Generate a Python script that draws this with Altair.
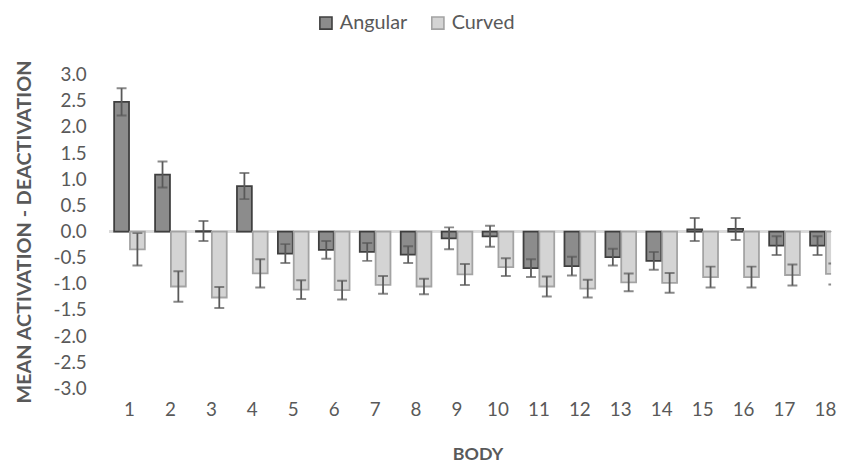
import altair as alt
import pandas as pd

body = list(range(1, 19))
angular = [2.48, 1.09, 0.01, 0.87, -0.42, -0.35, -0.39, -0.44, -0.13, -0.09,
           -0.70, -0.66, -0.49, -0.56, 0.04, 0.05, -0.27, -0.27]
angular_err = [0.26, 0.25, 0.19, 0.25, 0.18, 0.17, 0.17, 0.16, 0.21, 0.20,
               0.17, 0.18, 0.16, 0.17, 0.22, 0.21, 0.18, 0.18]
curved = [-0.34, -1.05, -1.26, -0.80, -1.11, -1.12, -1.02, -1.05, -0.82, -0.68,
          -1.05, -1.09, -0.97, -0.98, -0.87, -0.87, -0.83, -0.81]
curved_err = [0.31, 0.29, 0.20, 0.27, 0.18, 0.18, 0.17, 0.15, 0.20, 0.17,
              0.19, 0.17, 0.17, 0.19, 0.20, 0.20, 0.20, 0.20]
series = ["Angular", "Curved"]
y_ticks = [-3.0, -2.5, -2.0, -1.5, -1.0, -0.5, 0.0, 0.5, 1.0, 1.5, 2.0, 2.5, 3.0]

rows = []
for i, b in enumerate(body):
    rows.append({"body": b, "series": "Angular", "value": angular[i], "err": angular_err[i]})
    rows.append({"body": b, "series": "Curved", "value": curved[i], "err": curved_err[i]})
df = pd.DataFrame(rows)
df["lo"] = df["value"] - df["err"]
df["hi"] = df["value"] + df["err"]

FONT = "Lato"
GREY = "#595959"
YTITLE = "MEAN ACTIVATION - DEACTIVATION"

xaxis = alt.Axis(labelAngle=0, labelFontSize=19, labelColor=GREY, labelFont=FONT,
                 labelPadding=12, labelOverlap=False, labelBound=False,
                 titleFontSize=18, titleFont=FONT,
                 titleFontWeight="bold", titleColor=GREY, titlePadding=27,
                 domain=False, ticks=False)
yaxis = alt.Axis(values=y_ticks,
                 labelExpr="replace(format(datum.value, '.1f'), '\u2212', '-')",
                 labelFontSize=19, labelColor=GREY, labelFont=FONT, labelPadding=23,
                 labelOverlap=False, labelBound=False,
                 titleFontSize=20, titleFont=FONT, titleFontWeight="bold",
                 titleColor=GREY, titlePadding=19,
                 domain=False, ticks=False, grid=False)
xscale = alt.Scale(range=[0, 744], paddingInner=0.25, paddingOuter=0.125)
yscale = alt.Scale(domain=[-3, 3], nice=False, zero=False)


def X():
    return alt.X("body:O", title="BODY", scale=xscale, axis=xaxis)


def XO():
    return alt.XOffset("series:N", scale=alt.Scale(domain=series, paddingInner=0.06))


def Y(field):
    return alt.Y(field, scale=yscale, title=YTITLE, axis=yaxis)


base = alt.Chart(df)

zero = base.mark_rule(color="#d9d9d9", strokeWidth=1.5).encode(
    y=Y("z:Q")
).transform_calculate(z="0")

bars = base.mark_bar(strokeWidth=1.8, clip=True).encode(
    x=X(),
    xOffset=XO(),
    y=Y("value:Q"),
    y2=alt.datum(0),
    fill=alt.Fill("series:N", title=None,
                  scale=alt.Scale(domain=series, range=["#8c8c8c", "#d4d4d4"])),
    stroke=alt.Stroke("series:N", title=None,
                      scale=alt.Scale(domain=series, range=["#3f3f3f", "#a3a3a3"])),
)

err_rule = base.mark_rule(color=GREY, strokeWidth=1.8, clip=True).encode(
    x=X(), xOffset=XO(), y=Y("lo:Q"), y2="hi:Q"
)
cap_lo = base.mark_tick(color=GREY, size=10, thickness=2, clip=True).encode(
    x=X(), xOffset=XO(), y=Y("lo:Q")
)
cap_hi = base.mark_tick(color=GREY, size=10, thickness=2, clip=True).encode(
    x=X(), xOffset=XO(), y=Y("hi:Q")
)

chart = alt.layer(zero, bars, err_rule, cap_lo, cap_hi).properties(
    width=729, height=317,
    autosize=alt.AutoSizeParams(type="none"),
    padding={"left": 102, "top": 65, "right": 8, "bottom": 78},
    background="white",
).configure_view(stroke=None).configure_legend(
    orient="none", legendX=209, legendY=-62, direction="horizontal",
    symbolType="square", symbolSize=150, symbolStrokeWidth=1.6,
    labelFontSize=20, labelColor=GREY, labelFont=FONT, columnPadding=20, labelOffset=4,
    labelLimit=0,
)

chart.save("out.html", embed_options={"renderer": "svg", "actions": False})
